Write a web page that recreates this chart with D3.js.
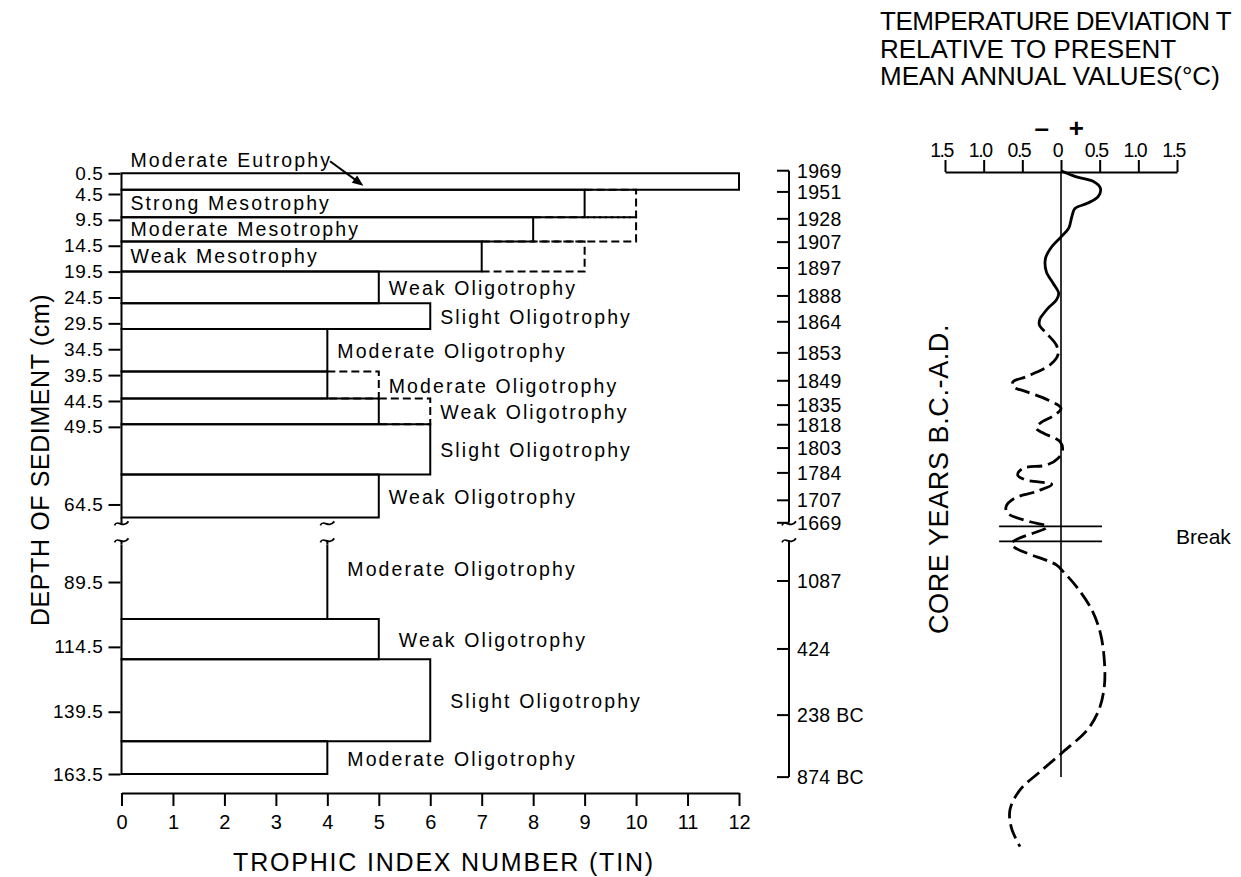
<!DOCTYPE html>
<html>
<head>
<meta charset="utf-8">
<script src="https://cdn.jsdelivr.net/npm/d3@7"></script>
<style>
  html, body { margin: 0; padding: 0; background: #fff; }
  svg { display: block; font-family: "Liberation Sans", Arial, Helvetica, sans-serif; }
</style>
</head>
<body>
<svg id="chart" width="1241" height="877"></svg>
<script>
// ---- Trophic state of each sediment interval (depth in cm) ----
const intervalTop    = [0.5, 3.7, 9.0, 13.7, 19.5, 25.6, 30.6, 38.8, 44.0, 49.0, 58.7, 75, 103.8, 119.3, 150.9];
const intervalBottom = [3.7, 9.0, 13.7, 19.5, 25.6, 30.6, 38.8, 44.0, 49.0, 58.7, 67, 103.8, 119.3, 150.9, 163.5];
const tinValues      = [12, 9, 8, 7, 5, 6, 4, 4, 5, 6, 5, 4, 5, 6, 4];
const tinUpper       = [null, 10, 10, 9, null, null, null, 5, 6, null, null, null, null, null, null];
const trophicLabels  = [
  "Moderate Eutrophy", "Strong Mesotrophy", "Moderate Mesotrophy", "Weak Mesotrophy",
  "Weak Oligotrophy", "Slight Oligotrophy", "Moderate Oligotrophy", "Moderate Oligotrophy",
  "Weak Oligotrophy", "Slight Oligotrophy", "Weak Oligotrophy", "Moderate Oligotrophy",
  "Weak Oligotrophy", "Slight Oligotrophy", "Moderate Oligotrophy"
];

// ---- Axis ticks ----
const depthTicks = [0.5, 4.5, 9.5, 14.5, 19.5, 24.5, 29.5, 34.5, 39.5, 44.5, 49.5, 64.5, 89.5, 114.5, 139.5, 163.5];
const tinTicks = [0, 1, 2, 3, 4, 5, 6, 7, 8, 9, 10, 11, 12];
const coreYears = ["1969", "1951", "1928", "1907", "1897", "1888", "1864", "1853", "1849", "1835",
                   "1818", "1803", "1784", "1707", "1669", "1087", "424", "238 BC", "874 BC"];
const coreYearDepths = [0, 4.1, 9.3, 13.8, 18.8, 24.2, 29.2, 35.2, 40.6, 45.3,
                        49.1, 53.6, 58.4, 63.7, 68.6, 89.1, 115.3, 140.8, 164.7];
const tempTicks = [-1.5, -1.0, -0.5, 0, 0.5, 1.0, 1.5];

// ---- Temperature deviation (deg C) against core depth (cm) ----
const tempDepth = [0, 1.2, 2.1, 3.4, 5.0, 6.3, 7.3, 8.9, 11.1, 12.8, 14.7, 16.9, 19.5, 21.8, 23.7,
  25.0, 26.6, 28.5, 29.8, 31.4, 33.7, 35.6, 37.5, 39.8, 40.8, 41.7, 42.7, 44.3, 45.9, 47.2,
  48.8, 49.8, 50.7, 52.4, 54.0, 55.6, 56.9, 57.5, 58.8, 59.8, 60.6, 62.0, 63.3, 64.9, 66.2,
  68.3, 69.8, 74.8, 82.9, 85.5, 91.3, 100.3, 109.3, 119.6, 129.8, 138.8, 146.5, 154.9, 162.6,
  169.6, 177.3, 184.4, 191.5];
const tempDeviation = [0, 0.20, 0.42, 0.51, 0.48, 0.34, 0.18, 0.14, 0.10, 0.0, -0.12, -0.20, -0.19, -0.10, -0.03,
  -0.06, -0.17, -0.27, -0.28, -0.19, -0.06, -0.04, -0.14, -0.45, -0.62, -0.62, -0.45, -0.17, 0.0, -0.08,
  -0.27, -0.32, -0.23, -0.01, 0.02, -0.04, -0.19, -0.49, -0.56, -0.45, -0.12, -0.32, -0.60, -0.71, -0.69,
  -0.40, -0.18, -0.64, -0.06, 0.03, 0.20, 0.40, 0.51, 0.56, 0.56, 0.49, 0.34, 0.03, -0.27,
  -0.53, -0.66, -0.64, -0.53];
const solidUntilDepth = 28.5;   // record is continuous above this depth, interpolated below
const gapStart = 67, gapEnd = 75; // section of core omitted from the depth axis

// ---- Scales ----
const svg = d3.select("#chart");
const x = d3.scaleLinear().domain([0, 12]).range([121.5, 739]);
const y = d3.scaleLinear().domain([0.5, gapStart, gapEnd, 163.5]).range([173.3, 517.4, 544.4, 774]);
const tx = d3.scaleLinear().domain([-1.5, 1.5]).range([945, 1177]);

const bars = tinValues.map((v, i) => ({
  top: intervalTop[i], bottom: intervalBottom[i], v, upper: tinUpper[i], label: trophicLabels[i]
}));

// ---- Break symbol (small tilde) ----
function tilde(g, cx, cy) {
  g.append("path")
    .attr("d", `M${cx - 7},${cy + 2} C${cx - 4},${cy - 5} ${cx + 1},${cy + 6} ${cx + 7},${cy - 2}`)
    .attr("fill", "none").attr("stroke", "#000").attr("stroke-width", 1.8);
}

// ---- Boxes ----
const boxG = svg.append("g");
bars.forEach(b => {
  const x0 = x(0), x1 = x(b.v), y0 = y(b.top), y1 = y(b.bottom);
  let d;
  if (b.top === gapEnd) {
    d = `M${x0},${y0} V${y1} H${x1} V${y0}`;   // open at the break
  } else {
    d = `M${x0},${y0} H${x1} V${y1} H${x0} Z`;
  }
  boxG.append("path").attr("d", d).attr("fill", "none")
    .attr("stroke", "#000").attr("stroke-width", 2);
  if (b.upper != null) {
    boxG.append("path")
      .attr("d", `M${x1},${y0} H${x(b.upper)} V${y1} H${x1}`)
      .attr("fill", "none").attr("stroke", "#000").attr("stroke-width", 2)
      .attr("stroke-dasharray", "8,4");
  }
});

// break marks on the box edges that run through the omitted section
[0, 4].forEach(v => {
  tilde(boxG, x(v), y(gapStart) + 6);
  tilde(boxG, x(v), y(gapEnd) - 4);
  boxG.append("line").attr("x1", x(v)).attr("x2", x(v))
    .attr("y1", y(gapEnd) - 4).attr("y2", y(gapEnd))
    .attr("stroke", "#000").attr("stroke-width", 2);
});
boxG.append("line").attr("x1", x(0)).attr("x2", x(0))
  .attr("y1", y(gapStart)).attr("y2", y(gapStart) + 6)
  .attr("stroke", "#000").attr("stroke-width", 2);

// ---- Box labels ----
const labelG = svg.append("g").attr("font-size", 19.5).attr("letter-spacing", 2.1).attr("fill", "#000");
bars.forEach((b, i) => {
  const topY = b.top === gapEnd ? y(gapStart) : y(b.top);
  const cy = (topY + y(b.bottom)) / 2;
  const inside = i >= 1 && i <= 3;
  if (i === 0) {
    const t = labelG.append("text").attr("x", x(0) + 9).attr("y", y(b.top) - 6.5).text(b.label);
    const len = t.node().getComputedTextLength();
    const sx = x(0) + 9 + len - 2, sy = y(b.top) - 12;
    const ex = x(4.7), ey = y(2.9);
    const ang = Math.atan2(ey - sy, ex - sx);
    const L = 11, W = 4.5;
    labelG.append("line").attr("x1", sx).attr("y1", sy)
      .attr("x2", ex - Math.cos(ang) * 6).attr("y2", ey - Math.sin(ang) * 6)
      .attr("stroke", "#000").attr("stroke-width", 2);
    const bx = ex - Math.cos(ang) * L, by = ey - Math.sin(ang) * L;
    labelG.append("path")
      .attr("d", `M${ex},${ey} L${bx - Math.sin(ang) * W},${by + Math.cos(ang) * W} L${bx + Math.sin(ang) * W},${by - Math.cos(ang) * W} Z`)
      .attr("fill", "#000");
  } else if (inside) {
    labelG.append("text").attr("x", x(0) + 9).attr("y", cy + 6.5).text(b.label);
  } else {
    const reach = Math.max(b.v, b.upper || 0);
    const gap = b.top >= gapEnd ? 20 : 10;
    labelG.append("text").attr("x", x(reach) + gap).attr("y", cy + 8).text(b.label);
  }
});

// ---- Depth axis ----
const depthAxis = svg.append("g").attr("transform", `translate(${x(0) - 1},0)`)
  .call(d3.axisLeft(y).tickValues(depthTicks).tickFormat(d3.format(".1f")).tickSize(12).tickPadding(5));
depthAxis.select(".domain").remove();
depthAxis.selectAll(".tick line").attr("stroke", "#000").attr("stroke-width", 2);
depthAxis.selectAll(".tick text").attr("font-size", 19).attr("letter-spacing", 0.6)
  .attr("fill", "#000").attr("font-family", "Liberation Sans, Arial, sans-serif");

// ---- TIN axis ----
const tinAxis = svg.append("g").attr("transform", "translate(0,793)")
  .call(d3.axisBottom(x).tickValues(tinTicks).tickSize(13).tickSizeOuter(0).tickPadding(9));
tinAxis.select(".domain").attr("stroke", "#000").attr("stroke-width", 2);
tinAxis.selectAll(".tick line").attr("stroke", "#000").attr("stroke-width", 2);
tinAxis.selectAll(".tick text").attr("font-size", 20).attr("fill", "#000")
  .attr("font-family", "Liberation Sans, Arial, sans-serif");

// ---- Axis titles ----
svg.append("text").attr("x", 444).attr("y", 871).attr("text-anchor", "middle")
  .attr("font-size", 25).attr("letter-spacing", 1.8).text("TROPHIC INDEX NUMBER  (TIN)");
svg.append("text").attr("transform", "translate(49,460) rotate(-90)").attr("text-anchor", "middle")
  .attr("font-size", 25).attr("letter-spacing", 0.6).text("DEPTH OF SEDIMENT  (cm)");

// ---- Core years axis ----
const yrX = 789;
const yrG = svg.append("g");
yrG.append("line").attr("x1", yrX).attr("x2", yrX)
  .attr("y1", y(coreYearDepths[0])).attr("y2", y(gapStart) + 5)
  .attr("stroke", "#000").attr("stroke-width", 2);
yrG.append("line").attr("x1", yrX).attr("x2", yrX)
  .attr("y1", y(gapEnd) - 4).attr("y2", y(coreYearDepths[coreYearDepths.length - 1]))
  .attr("stroke", "#000").attr("stroke-width", 2);
tilde(yrG, yrX, y(gapStart) + 6);
tilde(yrG, yrX, y(gapEnd) - 4);
coreYears.forEach((label, i) => {
  const yy = y(coreYearDepths[i]);
  yrG.append("line").attr("x1", yrX - 12).attr("x2", yrX).attr("y1", yy).attr("y2", yy)
    .attr("stroke", "#000").attr("stroke-width", 2);
  yrG.append("text").attr("x", yrX + 8).attr("y", yy + 7).attr("font-size", 19.5)
    .attr("letter-spacing", 0.3).text(label);
});
svg.append("text").attr("transform", "translate(948,479) rotate(-90)").attr("text-anchor", "middle")
  .attr("font-size", 27).attr("letter-spacing", 0.6).text("CORE YEARS B.C.-A.D.");

// ---- Temperature panel ----
const titleG = svg.append("g").attr("font-size", 26);
["TEMPERATURE DEVIATION T", "RELATIVE TO PRESENT", "MEAN ANNUAL VALUES(°C)"].forEach((s, i) => {
  titleG.append("text").attr("x", 880).attr("y", 30 + i * 27.5)
    .attr("letter-spacing", i === 0 ? -0.5 : 0).text(s);
});

const tAxis = svg.append("g").attr("transform", "translate(0,172)")
  .call(d3.axisTop(tx).tickValues(tempTicks).tickSize(12).tickSizeOuter(0).tickPadding(3)
    .tickFormat(d => d === 0 ? "0" : d3.format(".1f")(Math.abs(d))));
tAxis.select(".domain").attr("stroke", "#000").attr("stroke-width", 2);
tAxis.selectAll(".tick line").attr("stroke", "#000").attr("stroke-width", 2);
tAxis.selectAll(".tick text").attr("font-size", 19.5).attr("letter-spacing", -1.5).attr("dx", -4)
  .attr("fill", "#000").attr("font-family", "Liberation Sans, Arial, sans-serif");

svg.append("text").attr("x", tx(-0.25)).attr("y", 137).attr("text-anchor", "middle")
  .attr("font-size", 26).attr("font-weight", "bold").text("–");
svg.append("text").attr("x", tx(0.2)).attr("y", 137).attr("text-anchor", "middle")
  .attr("font-size", 26).attr("font-weight", "bold").text("+");

// zero line
svg.append("line").attr("x1", tx(0)).attr("x2", tx(0))
  .attr("y1", 172).attr("y2", y(coreYearDepths[coreYearDepths.length - 1]))
  .attr("stroke", "#000").attr("stroke-width", 1.6);

// break lines across the temperature record
[y(gapStart) + 9, y(gapEnd) - 3].forEach(yy => {
  svg.append("line").attr("x1", tx(-0.8)).attr("x2", tx(0.53)).attr("y1", yy).attr("y2", yy)
    .attr("stroke", "#000").attr("stroke-width", 1.6);
});
svg.append("text").attr("x", 1176).attr("y", 544).attr("font-size", 21).text("Break");

const tempPts = tempDepth.map((d, i) => ({ depth: d, dev: tempDeviation[i] }));
const tempLine = d3.line().x(p => tx(p.dev)).y(p => y(p.depth)).curve(d3.curveCatmullRom.alpha(0.5));
svg.append("path").attr("d", tempLine(tempPts.filter(p => p.depth <= solidUntilDepth)))
  .attr("fill", "none").attr("stroke", "#000").attr("stroke-width", 2.8);
svg.append("path").attr("d", tempLine(tempPts.filter(p => p.depth >= solidUntilDepth)))
  .attr("fill", "none").attr("stroke", "#000").attr("stroke-width", 2.8)
  .attr("stroke-dasharray", "15,6");
</script>
</body>
</html>
